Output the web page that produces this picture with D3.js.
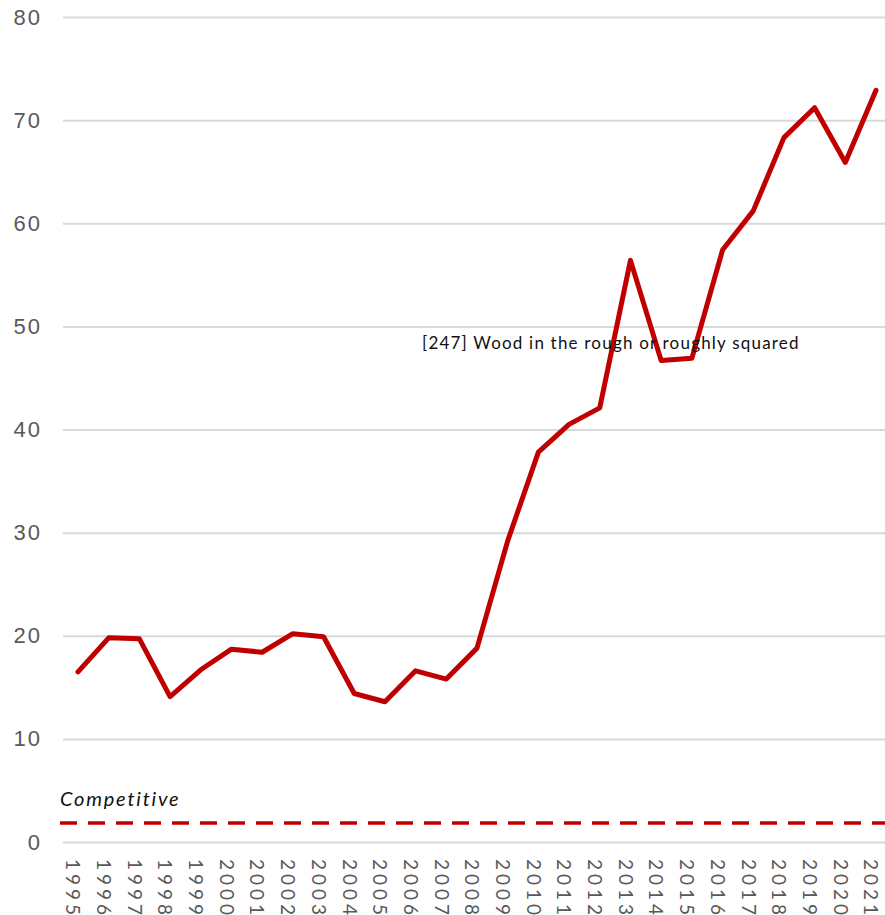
<!DOCTYPE html>
<html>
<head>
<meta charset="utf-8">
<script src="https://cdn.jsdelivr.net/npm/d3@7"></script>
<style>
  html, body { margin: 0; padding: 0; background: #fff; }
  svg { display: block; font-family: Lato, "Open Sans", sans-serif; }
</style>
</head>
<body>
<div id="chart"></div>
<script>
// Yearly index for HS [247], with the "Competitive" reference level.
const years = d3.range(1995, 2022).map(String);
const values = [16.5, 19.8, 19.7, 14.1, 16.7, 18.7, 18.4, 20.2, 19.9, 14.4, 13.6, 16.6, 15.8, 18.8,
  29.2, 37.8, 40.5, 42.1, 56.4, 46.7, 46.9, 57.4, 61.2, 68.3, 71.2, 65.9, 72.9];
const yTicks = [0, 10, 20, 30, 40, 50, 60, 70, 80];
const competitive = 1.85;
const seriesLabel = '[247] Wood in the rough or roughly squared';

const W = 885, H = 915;
const svg = d3.select('#chart').append('svg').attr('width', W).attr('height', H);

const x = d3.scalePoint().domain(years).range([78, 876]);
const y = d3.scaleLinear().domain([0, 80]).range([842, 17]);

// gridlines + y labels
const yAxis = d3.axisLeft(y).tickValues(yTicks).tickSize(-(885 - 63)).tickPadding(21);
const gy = svg.append('g').attr('transform', 'translate(63,0)').call(yAxis);
gy.select('.domain').remove();
gy.selectAll('.tick line').attr('stroke', '#d9d9d9').attr('stroke-width', 2);
gy.selectAll('.tick text').attr('fill', '#595959').attr('font-size', 22).attr('letter-spacing', 2);

// year labels, rotated to read top-down (Futura-ish spacing via letter-spacing)
svg.append('g').selectAll('text')
  .data(years)
  .join('text')
  .attr('transform', d => `translate(${x(d) - 5},859) rotate(90)`)
  .attr('dy', '0.35em')
  .attr('fill', '#595959')
  .attr('font-size', 19)
  .attr('letter-spacing', 4)
  .text(d => d);

// competitive reference
svg.append('line')
  .attr('x1', 60).attr('x2', 885)
  .attr('y1', y(competitive)).attr('y2', y(competitive))
  .attr('stroke', '#c00000').attr('stroke-width', 3.5)
  .attr('stroke-dasharray', '17,11');

svg.append('text')
  .attr('x', 60).attr('y', 806)
  .attr('font-style', 'italic').attr('font-size', 20)
  .attr('letter-spacing', 1.8)
  .attr('fill', '#111')
  .text('Competitive');

const line = d3.line().x((d, i) => x(years[i])).y(d => y(d));
svg.append('path')
  .datum(values)
  .attr('d', line)
  .attr('fill', 'none')
  .attr('stroke', '#c00000')
  .attr('stroke-width', 5)
  .attr('stroke-linejoin', 'round')
  .attr('stroke-linecap', 'round');

svg.append('text')
  .attr('x', 422).attr('y', 349)
  .attr('font-size', 17)
  .attr('letter-spacing', 1.2)
  .attr('fill', '#111')
  .text(seriesLabel);
</script>
</body>
</html>
